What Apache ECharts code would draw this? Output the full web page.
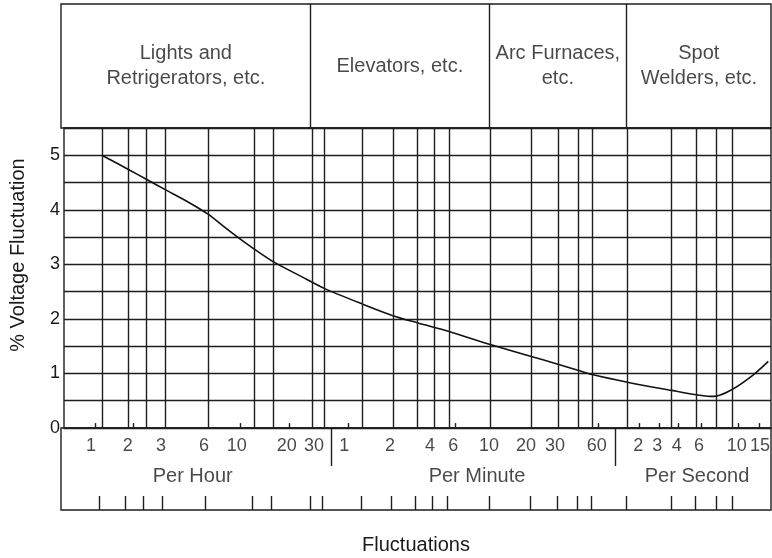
<!DOCTYPE html>
<html><head><meta charset="utf-8">
<script src="https://cdn.jsdelivr.net/npm/echarts@6/dist/echarts.min.js"></script>
<style>html,body{margin:0;padding:0;background:#fff}#c{width:772px;height:558px}</style>
</head><body><div id="c"></div>
<script>
// x values: position along the printed (non-uniform) fluctuation scale, 0 = left edge, 710 = right edge
const sectionBounds = [0, 249.7, 428, 565.7, 710];
const sectionNames = ['Lights and\nRetrigerators, etc.', 'Elevators, etc.', 'Arc Furnaces,\netc.', 'Spot\nWelders, etc.'];
const gridLinePos = [38, 64.7, 82.7, 101.7, 144.7, 191, 210, 249.7, 261.3, 300, 330.3, 354.7, 371.7, 386.7, 428, 469.3, 496, 516, 530.3, 565.7, 610, 634.7, 655, 671.3];
const minorTickPos = [31, 69.7, 176.7, 226.7, 285, 393.3, 536.7, 577.3, 597.3, 617.3, 640, 677.3, 698];
const hourLabels = ['1', '2', '3', '6', '10', '20', '30'];
const hourLabelPos = [30, 66.7, 100, 143, 175.7, 225.7, 253];
const minuteLabels = ['1', '2', '4', '6', '10', '20', '30', '60'];
const minuteLabelPos = [283.3, 329, 369, 392.3, 428, 465, 494, 535.7];
const secondLabels = ['2', '3', '4', '6', '10', '15'];
const secondLabelPos = [577.3, 596.3, 615.7, 638, 675.7, 699];
const groupNames = ['Per Hour', 'Per Minute', 'Per Second'];
const groupCenters = [131.7, 416, 636];
const groupSeparators = [270.7, 554];
// flicker curve: scale position vs % voltage fluctuation
const curveX = [38, 64.7, 82.7, 101.7, 125, 144.7, 160, 175.7, 191, 210, 239, 261.3, 300, 330.3, 354.7, 386.7, 428, 469.3, 496, 516, 530.3, 565.7, 610, 634.7, 649, 655, 671.3, 692.3, 707.3];
const curveY = [5.0, 4.74, 4.56, 4.37, 4.14, 3.92, 3.7, 3.48, 3.28, 3.05, 2.77, 2.56, 2.27, 2.06, 1.93, 1.77, 1.53, 1.31, 1.17, 1.06, 0.98, 0.84, 0.69, 0.61, 0.58, 0.585, 0.71, 0.975, 1.22];

const FONT = '"Liberation Sans", Arial, Helvetica, sans-serif';
const INK = '#1a1a1a';
const LINE = { color: '#1e1e1e', width: 1.4, type: 'solid' };

const chart = echarts.init(document.getElementById('c'), null, { renderer: 'canvas' });

function lineMark(data) {
  return { silent: true, symbol: 'none', animation: false, label: { show: false }, lineStyle: LINE, data: data };
}
function textSeries(xi, yi, items, size, lh) {
  return {
    type: 'scatter', xAxisIndex: xi, yAxisIndex: yi, symbolSize: 1, silent: true,
    itemStyle: { color: 'transparent' },
    label: { show: true, position: 'inside', formatter: '{b}', color: INK, fontFamily: FONT, fontSize: size, lineHeight: lh, align: 'center', verticalAlign: 'middle' },
    data: items
  };
}

const sectionCenters = sectionNames.map((n, i) => (sectionBounds[i] + sectionBounds[i + 1]) / 2);
const tickItems = []
  .concat(hourLabels.map((t, i) => ({ name: t, value: [hourLabelPos[i], 64.3] })))
  .concat(minuteLabels.map((t, i) => ({ name: t, value: [minuteLabelPos[i], 64.3] })))
  .concat(secondLabels.map((t, i) => ({ name: t, value: [secondLabelPos[i], 64.3] })));

const gridBox = { show: true, borderColor: '#1e1e1e', borderWidth: 1.4, left: 61, right: 1 };
const xBase = { type: 'value', min: 0, max: 710, show: false };

chart.setOption({
  animation: false,
  grid: [
    Object.assign({}, gridBox, { top: 4, height: 124 }),
    Object.assign({}, gridBox, { top: 128, height: 300 }),
    Object.assign({}, gridBox, { top: 428, height: 82 })
  ],
  xAxis: [
    Object.assign({ gridIndex: 0 }, xBase),
    Object.assign({ gridIndex: 1 }, xBase),
    {
      gridIndex: 2, type: 'value', min: 0, max: 710, show: true,
      axisLine: { show: false }, axisTick: { show: false }, axisLabel: { show: false }, splitLine: { show: false },
      name: 'Fluctuations', nameLocation: 'middle', nameGap: 25,
      nameTextStyle: { fontFamily: FONT, fontSize: 20, color: INK }
    }
  ],
  yAxis: [
    { gridIndex: 0, type: 'value', min: 0, max: 1, show: false },
    {
      gridIndex: 1, type: 'value', min: 0, max: 5.5, interval: 0.5,
      axisLine: { show: false }, axisTick: { show: false },
      axisLabel: { formatter: v => (Math.abs(v - Math.round(v)) < 1e-6 ? String(Math.round(v)) : ''), fontFamily: FONT, fontSize: 18, color: INK, margin: 4 },
      splitLine: { show: true, lineStyle: LINE },
      name: '% Voltage Fluctuation', nameLocation: 'middle', nameGap: 36, nameRotate: 90,
      nameTextStyle: { fontFamily: FONT, fontSize: 20, color: INK, padding: [0, 0, 0, 46] }
    },
    { gridIndex: 2, type: 'value', min: 0, max: 82, show: false }
  ],
  series: [
    { type: 'line', xAxisIndex: 0, yAxisIndex: 0, data: [], markLine: lineMark(sectionBounds.slice(1, -1).map(x => ({ xAxis: x }))) },
    textSeries(0, 0, sectionNames.map((n, i) => ({ name: n, value: [sectionCenters[i], 0.5] })), 20, 25),
    { type: 'line', xAxisIndex: 1, yAxisIndex: 1, data: [], markLine: lineMark(gridLinePos.map(x => ({ xAxis: x }))) },
    { type: 'line', xAxisIndex: 1, yAxisIndex: 1, data: [], markLine: lineMark(minorTickPos.map(x => [{ coord: [x, 0] }, { coord: [x, 0.09] }])) },
    {
      type: 'line', xAxisIndex: 1, yAxisIndex: 1, smooth: 0.3, showSymbol: false, silent: true,
      lineStyle: { color: '#111', width: 1.6 },
      data: curveX.map((x, i) => [x, curveY[i]])
    },
    { type: 'line', xAxisIndex: 2, yAxisIndex: 2, data: [], markLine: lineMark(gridLinePos.map(x => [{ coord: [x, 0] }, { coord: [x, 14] }])) },
    { type: 'line', xAxisIndex: 2, yAxisIndex: 2, data: [], markLine: lineMark(groupSeparators.map(x => [{ coord: [x, 44] }, { coord: [x, 82] }])) },
    textSeries(2, 2, tickItems, 18, 20),
    textSeries(2, 2, groupNames.map((n, i) => ({ name: n, value: [groupCenters[i], 34] })), 20, 22)
  ]
});
</script></body></html>
